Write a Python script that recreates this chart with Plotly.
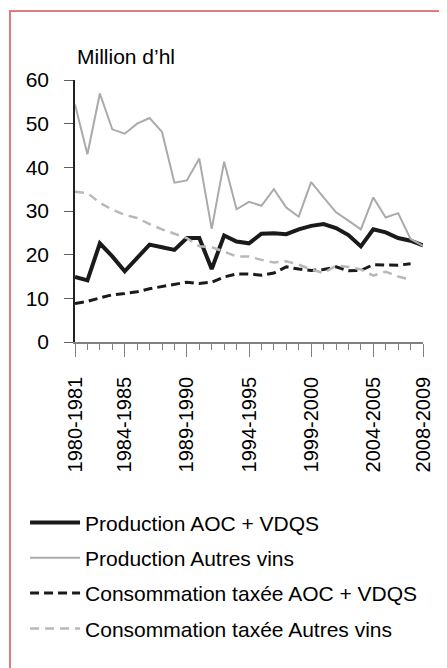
import plotly.graph_objects as go

seasons = [f"{y}-{y+1}" for y in range(1980, 2009)]
labeled = ["1980-1981", "1984-1985", "1989-1990", "1994-1995",
           "1999-2000", "2004-2005", "2008-2009"]

prod_aoc = [14.9, 14.1, 22.6, 19.6, 16.2, 19.2, 22.3, 21.7, 21.1, 23.8,
            23.8, 16.7, 24.4, 23.0, 22.6, 24.8, 24.9, 24.7, 25.8, 26.6,
            27.0, 26.1, 24.5, 21.9, 25.8, 25.1, 23.8, 23.2, 22.1]
prod_autres = [54.4, 43.0, 56.9, 48.7, 47.7, 50.0, 51.3, 48.1, 36.5, 37.0,
               42.0, 25.9, 41.3, 30.4, 32.1, 31.2, 35.0, 30.8, 28.7, 36.6,
               33.1, 29.7, 27.8, 25.8, 33.1, 28.5, 29.5, 23.6, 22.0]
conso_aoc = [8.8, 9.3, 10.1, 10.8, 11.1, 11.5, 12.2, 12.7, 13.2, 13.7,
             13.4, 13.7, 14.9, 15.6, 15.6, 15.3, 15.8, 17.2, 16.7, 16.4,
             16.6, 17.2, 16.3, 16.4, 17.7, 17.6, 17.6, 17.9]
conso_autres = [34.4, 34.1, 31.9, 30.3, 29.1, 28.4, 27.0, 25.8, 24.8, 23.8,
                21.9, 21.7, 20.7, 19.6, 19.6, 18.8, 18.2, 18.5, 17.7, 16.6,
                15.8, 17.5, 17.2, 16.6, 15.2, 16.1, 15.0, 14.3]

y_ticks = [0, 10, 20, 30, 40, 50, 60]

idx = list(range(len(seasons)))
tick_idx = [seasons.index(s) for s in labeled]

W, H = 439, 660
L, T = 67, 72
PW, PH = 348, 262

fig = go.Figure()
fig.add_trace(go.Scatter(x=idx, y=prod_aoc, mode="lines", name="Production AOC + VDQS",
                         line=dict(color="#1a1a1a", width=4), legendgroup="a"))
fig.add_trace(go.Scatter(x=idx, y=prod_autres, mode="lines", name="Production Autres vins",
                         line=dict(color="#aaaaaa", width=2), legendgroup="b"))
fig.add_trace(go.Scatter(x=idx[:len(conso_aoc)], y=conso_aoc, mode="lines",
                         name="Consommation taxée AOC + VDQS",
                         line=dict(color="#1a1a1a", width=3, dash="9px,5px"), legendgroup="c"))
fig.add_trace(go.Scatter(x=idx[:len(conso_autres)], y=conso_autres, mode="lines",
                         name="Consommation taxée Autres vins",
                         line=dict(color="#b8b8b8", width=2.5, dash="9px,6px"), legendgroup="d"))

fig.update_layout(
    width=W, height=H,
    margin=dict(l=L, r=W - L - PW, t=T, b=H - T - PH),
    paper_bgcolor="white", plot_bgcolor="white",
    font=dict(family="Liberation Sans, Arial, sans-serif", size=21, color="#000"),
    showlegend=True,
    legend=dict(x=-0.1435, xanchor="left", y=-0.612, yanchor="top",
                font=dict(size=21), itemwidth=50, tracegroupgap=5,
                bgcolor="rgba(0,0,0,0)"),
    xaxis=dict(range=[0, 28], tickmode="array", tickvals=tick_idx, ticktext=labeled,
               tickangle=-90, ticks="outside", ticklen=13, tickcolor="#808080",
               showline=True, linecolor="#808080", linewidth=1.5, showgrid=False,
               zeroline=False, ticklabelstandoff=12,
               minor=dict(dtick=1, tick0=0, ticks="outside", ticklen=6,
                          tickcolor="#808080", showgrid=False),
               tickfont=dict(size=20)),
    yaxis=dict(range=[0, 60], tickmode="array", tickvals=y_ticks,
               ticks="outside", ticklen=9, tickcolor="#606060",
               showline=True, linecolor="#222", linewidth=1.5, showgrid=False,
               zeroline=False, ticklabelstandoff=11, tickfont=dict(size=21)),
    annotations=[dict(text="Million d’hl", x=0, y=1.04, xref="paper", yref="paper",
                      xanchor="left", yanchor="bottom", showarrow=False,
                      font=dict(size=21))],
    shapes=[dict(type="rect", xref="paper", yref="paper",
                 x0=(2 - L) / PW, x1=(470 - L) / PW,
                 y0=(T + PH - 700) / PH, y1=(T + PH - 3) / PH,
                 line=dict(color="#e07c7c", width=2), fillcolor="rgba(0,0,0,0)",
                 layer="below")],
)

fig.write_html("out.html")
